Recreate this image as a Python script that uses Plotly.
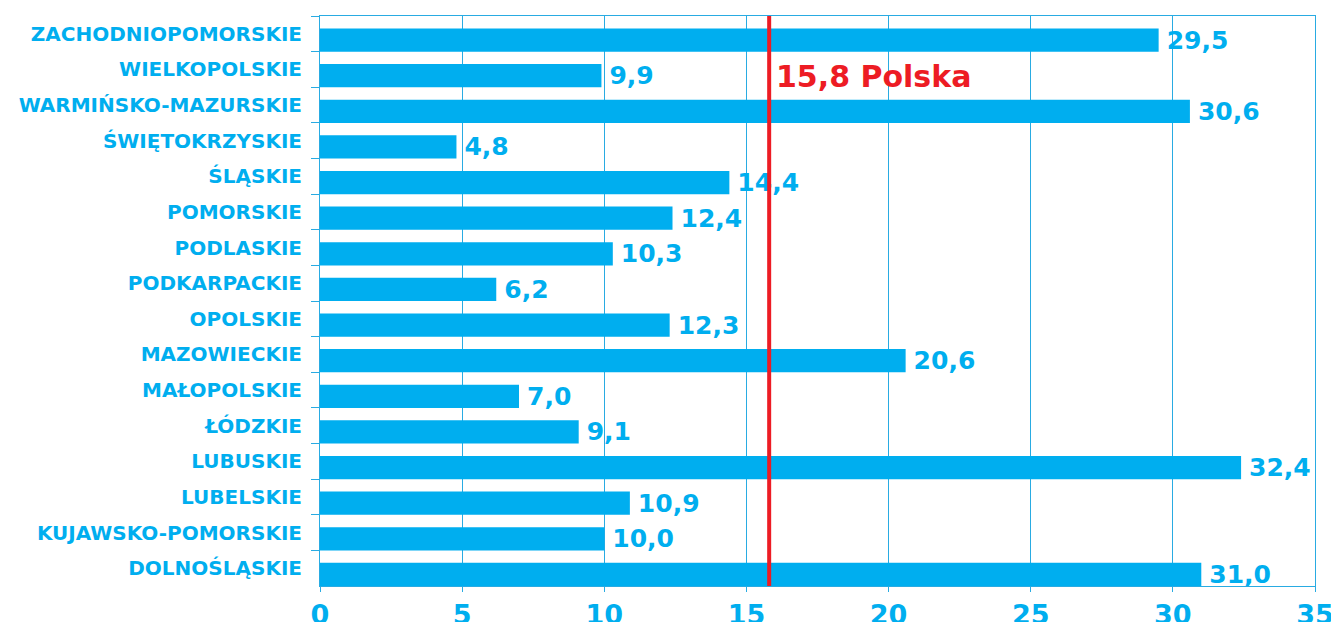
import plotly.graph_objects as go

categories = ["ZACHODNIOPOMORSKIE", "WIELKOPOLSKIE", "WARMIŃSKO-MAZURSKIE", "ŚWIĘTOKRZYSKIE",
              "ŚLĄSKIE", "POMORSKIE", "PODLASKIE", "PODKARPACKIE", "OPOLSKIE", "MAZOWIECKIE",
              "MAŁOPOLSKIE", "ŁÓDZKIE", "LUBUSKIE", "LUBELSKIE", "KUJAWSKO-POMORSKIE", "DOLNOŚLĄSKIE"]
values = [29.5, 9.9, 30.6, 4.8, 14.4, 12.4, 10.3, 6.2, 12.3, 20.6, 7.0, 9.1, 32.4, 10.9, 10.0, 31.0]
poland_value = 15.8
poland_label = "15,8 Polska"
x_ticks = [0, 5, 10, 15, 20, 25, 30, 35]

BLUE = "#00AEEF"
GRID = "#29ABE2"
RED = "#ED1C24"
FONT = "DejaVu Sans"

labels = ["\u2009" + f"{v:.1f}".replace(".", ",") for v in values]

fig = go.Figure()
fig.add_trace(go.Bar(
    x=values, y=categories, orientation="h",
    width=0.65, offset=-0.15,
    marker=dict(color=BLUE, line=dict(width=0)),
    text=labels, textposition="outside", cliponaxis=False, constraintext="none",
    textfont=dict(family=FONT, size=25, color=BLUE, weight="bold"),
    hoverinfo="skip",
))

fig.add_shape(type="line", x0=poland_value, x1=poland_value, y0=0, y1=1,
              xref="x", yref="paper", line=dict(color=RED, width=4), layer="above")
fig.add_annotation(x=poland_value, y=1.2, xref="x", yref="y",
                   text=poland_label, showarrow=False, xanchor="left", yanchor="middle", xshift=5,
                   font=dict(family=FONT, size=30, color=RED, weight="bold"))

fig.update_layout(
    width=1339, height=622,
    margin=dict(l=312, r=32, t=8, b=44, autoexpand=False),
    paper_bgcolor="white", plot_bgcolor="white",
    showlegend=False,
    xaxis=dict(range=[0, 35], tickvals=x_ticks, ticktext=[str(t) for t in x_ticks],
               showgrid=True, gridcolor=GRID, gridwidth=1, automargin=False,
               showline=True, linecolor=GRID, linewidth=1, mirror=True,
               ticks="outside", ticklen=5, tickcolor=GRID, zeroline=False,
               tickfont=dict(family=FONT, size=27, color=BLUE, weight="bold")),
    yaxis=dict(autorange="reversed", showline=True, linecolor=GRID, linewidth=1, mirror=True,
               ticks="outside", ticklen=8, tickcolor=GRID, tickson="boundaries",
               showgrid=False, automargin=False, ticklabelstandoff=13,
               tickfont=dict(family=FONT, size=20, color=BLUE, weight="bold")),
)

fig.write_html("out.html")
